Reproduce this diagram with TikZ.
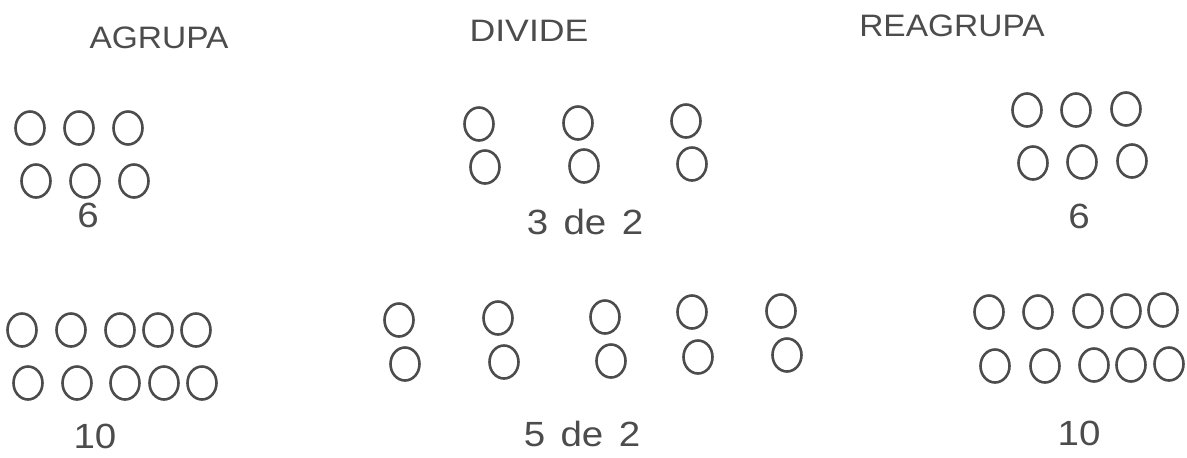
\documentclass[tikz,border=0pt]{standalone}
\usepackage{fontspec}
\setmainfont{Liberation Sans}
\usetikzlibrary{shapes.geometric}
\definecolor{ink}{HTML}{4C4C4C}
\tikzset{
  ring/.style={ellipse, draw=ink, line width=2.6pt, minimum width=29pt, minimum height=33pt, inner sep=0pt},
  title/.style={text=ink, inner sep=0pt, font=\fontsize{31}{32}\selectfont},
  lab/.style={text=ink, inner sep=0pt, font=\fontsize{35}{36}\selectfont}
}
\begin{document}
\begin{tikzpicture}[x=1pt,y=-1pt]
\useasboundingbox (0,0) rectangle (1187,458);
% titles
\node[title] (t1) at (159,38) {\scalebox{1.08}[1]{AGRUPA}};
\node[title] (t2) at (529,31) {\scalebox{1.15}[1]{DIVIDE}};
\node[title] (t3) at (952,26) {\scalebox{1.08}[1]{REAGRUPA}};
% AGRUPA 6
\foreach \n/\x/\y in {a1/30/128, a2/79/128, a3/128/128, a4/36/181, a5/85/181, a6/134/181}
  \node[ring] (\n) at (\x,\y) {};
\node[lab] (l1) at (88,215) {\scalebox{1.1}[1]{6}};
% AGRUPA 10
\foreach \n/\x/\y in {b1/22/330, b2/71/330, b3/120/330, b4/158/330, b5/196/330,
                      b6/28/383, b7/77/383, b8/125/383, b9/164/383, b10/202/383}
  \node[ring] (\n) at (\x,\y) {};
\node[lab] (l2) at (95,436) {\scalebox{1.1}[1]{10}};
% DIVIDE 3 de 2
\foreach \n/\x/\y in {c1/479/124, c2/578/123, c3/686/121, c4/485/167, c5/584/166, c6/692/164}
  \node[ring] (\n) at (\x,\y) {};
\node[lab] (l3) at (585,222) {\scalebox{1.1}[1]{3\hspace{14pt}de\hspace{14pt}2}};
% DIVIDE 5 de 2
\foreach \n/\x/\y in {d1/399/320, d2/498/318, d3/605/317, d4/692/312, d5/781/311,
                      d6/405/364, d7/504/362, d8/611/361, d9/698/357, d10/787/355}
  \node[ring] (\n) at (\x,\y) {};
\node[lab] (l4) at (582,434) {\scalebox{1.1}[1]{5\hspace{14pt}de\hspace{14pt}2}};
% REAGRUPA 6
\foreach \n/\x/\y in {e1/1027/110, e2/1076/110, e3/1126/109, e4/1033/163, e5/1082/162, e6/1132/161}
  \node[ring] (\n) at (\x,\y) {};
\node[lab] (l5) at (1079,216) {\scalebox{1.1}[1]{6}};
% REAGRUPA 10
\foreach \n/\x/\y in {f1/989/312, f2/1038/312, f3/1088/311, f4/1126/311, f5/1163/310,
                      f6/995/366, f7/1045/366, f8/1094/365, f9/1131/365, f10/1169/364}
  \node[ring] (\n) at (\x,\y) {};
\node[lab] (l6) at (1079,433) {\scalebox{1.1}[1]{10}};
\end{tikzpicture}
\end{document}
